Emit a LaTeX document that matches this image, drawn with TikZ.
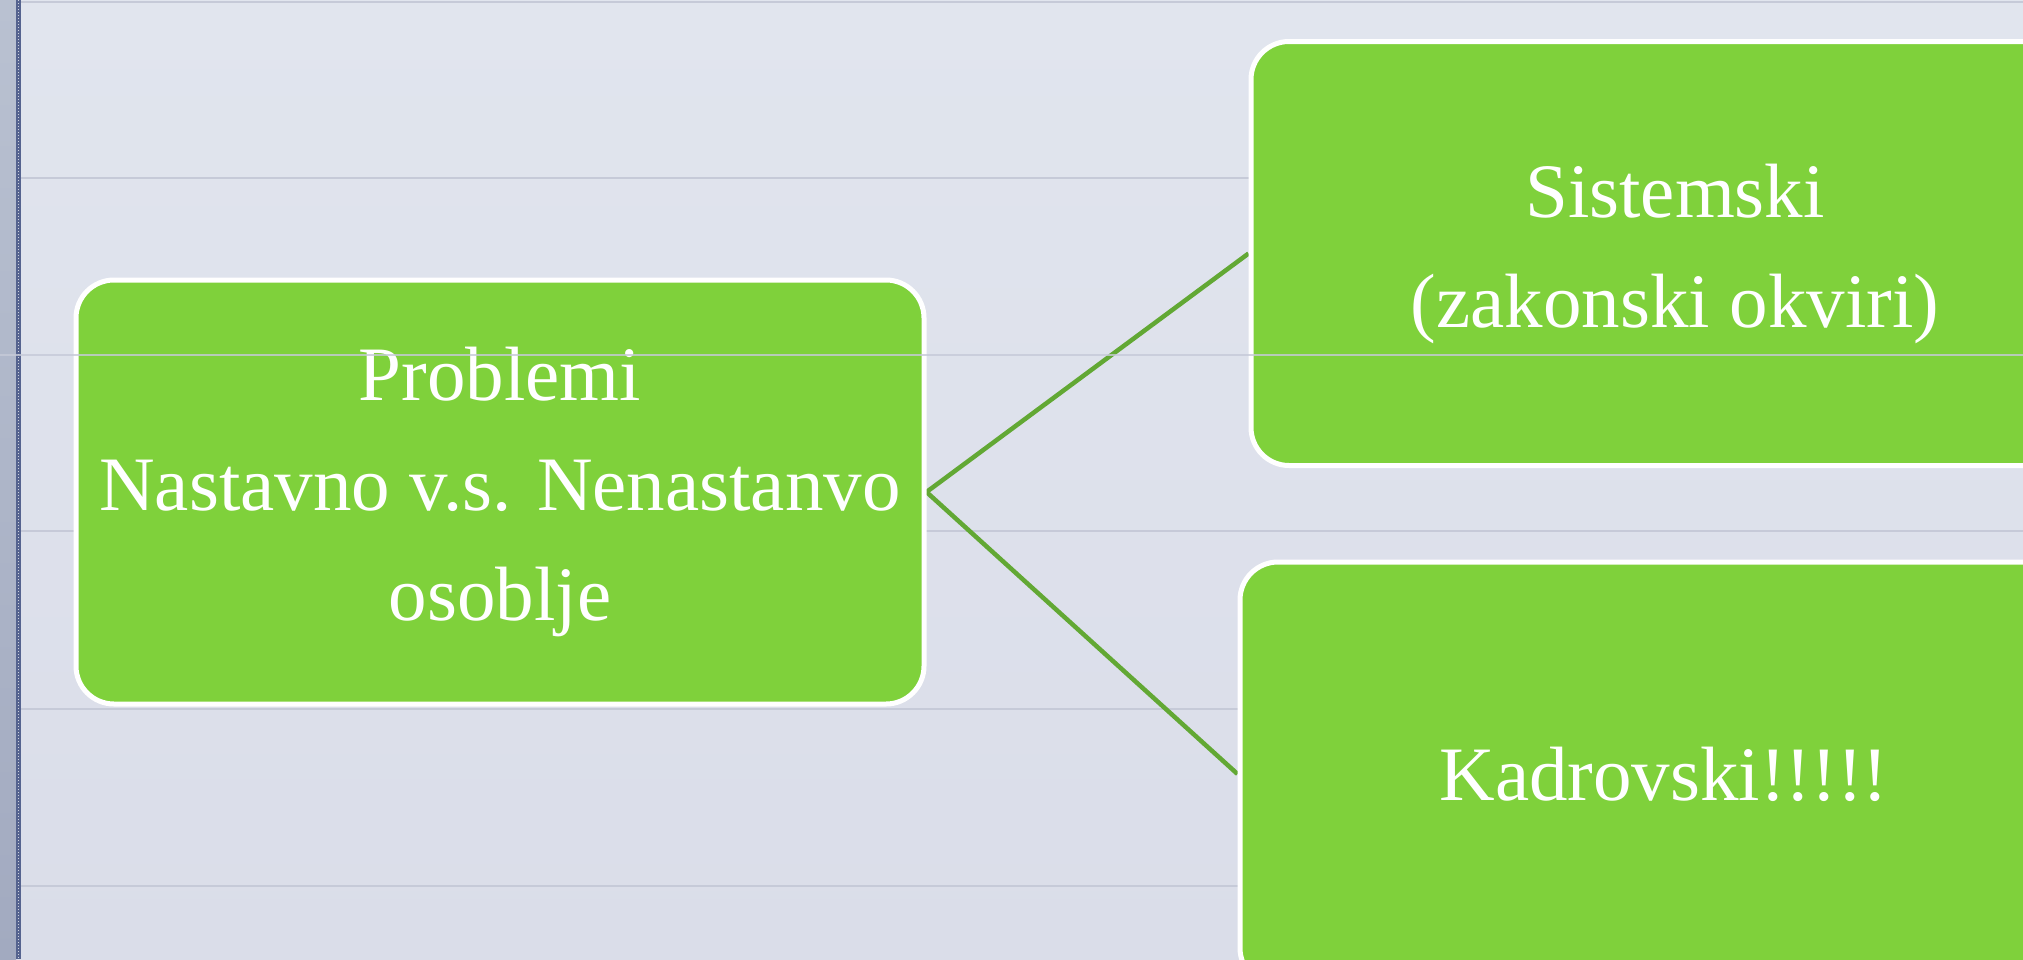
\documentclass[tikz,border=0pt]{standalone}
\usepackage{fontspec}
\setmainfont{Liberation Serif}
\definecolor{bgtop}{HTML}{E1E5EE}
\definecolor{bgbot}{HTML}{DADDE9}
\definecolor{stripetop}{HTML}{B9C1D1}
\definecolor{stripebot}{HTML}{A2AAC0}
\definecolor{stripedark}{HTML}{55638F}
\definecolor{gridc}{HTML}{C6CAD8}
\definecolor{boxgreen}{HTML}{7FD13B}
\definecolor{linkgreen}{HTML}{62A834}
\pgfdeclarelayer{bglayer}
\pgfdeclarelayer{linklayer}
\pgfdeclarelayer{toplayer}
\pgfsetlayers{bglayer,linklayer,main,toplayer}
\tikzset{
  gbox/.style={draw=white, line width=5pt, fill=boxgreen, rounded corners=38pt,
    minimum width=848pt, minimum height=424pt, text=white, align=center,
    font=\fontsize{77}{110}\selectfont, inner sep=0pt},
  link/.style={draw=linkgreen, line width=4.5pt},
  gridline/.style={draw=gridc, line width=2pt}
}
\begin{document}
\begin{tikzpicture}[x=1pt,y=-1pt]
\useasboundingbox (0,0) rectangle (2023,959);
\begin{pgfonlayer}{bglayer}
\shade[top color=bgtop, bottom color=bgbot] (0,0) rectangle (2023,959);
\shade[top color=stripetop, bottom color=stripebot] (0,0) rectangle (16,959);
\fill[stripedark] (16,0) rectangle (21,959);
\draw[white!70!stripedark, line width=1pt, dash pattern=on 1pt off 2pt] (18.5,0) -- (18.5,959);
\foreach \yy in {2,178,531,709,886} {\draw[gridline] (21,\yy) -- (2023,\yy);}
\end{pgfonlayer}
% boxes
\node[gbox] (prob) at (500,492) {Problemi\\Nastavno v.s. Nenastanvo\\osoblje};
\node[gbox] (sis) at (1675,253.5) {Sistemski\\(zakonski okviri)};
\node[gbox] (kad) at (1664,774) {Kadrovski!!!!!};
% connectors behind boxes
\begin{pgfonlayer}{linklayer}
\draw[link] (prob.east) -- (sis.west);
\draw[link] (prob.east) -- (kad.west);
\end{pgfonlayer}
% grid line over boxes
\begin{pgfonlayer}{toplayer}
\draw[gridline, draw opacity=0.8] (0,355) -- (2023,355);
\end{pgfonlayer}
\end{tikzpicture}
\end{document}
